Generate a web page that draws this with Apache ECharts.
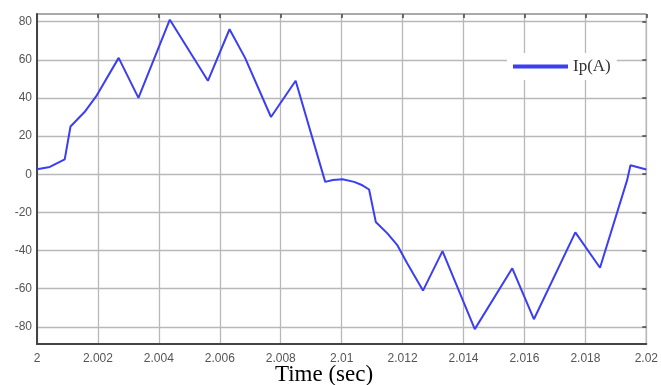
<!DOCTYPE html>
<html><head><meta charset="utf-8">
<script src="https://cdn.jsdelivr.net/npm/echarts@6/dist/echarts.min.js"></script>
<style>html,body{margin:0;padding:0;background:#fff}#c{width:661px;height:385px}</style>
</head><body><div id="c"></div>
<script>
const times = [2.0, 2.00042, 2.00091, 2.0011, 2.00156, 2.00194, 2.00268, 2.00333, 2.00436, 2.00561, 2.00632, 2.00683, 2.00768, 2.00849, 2.00946, 2.00971, 2.01003, 2.01041, 2.01068, 2.0109, 2.01112, 2.0115, 2.01182, 2.01215, 2.01267, 2.01331, 2.01437, 2.0156, 2.01631, 2.01767, 2.01848, 2.01937, 2.01948, 2.02];
const current = [2.6, 3.8, 7.8, 25, 32.6, 40.8, 61, 40, 81, 49, 76, 61, 30, 49, -4, -3, -2.6, -4, -5.8, -8, -25, -31, -37, -46.7, -61, -40.3, -81.2, -49.3, -76, -30.5, -49, -3.1, 4.7, 2.5];
const yTicks = [-80, -60, -40, -20, 0, 20, 40, 60, 80];
const seriesName = 'Ip(A)';
const xTitle = 'Time (sec)';

const chart = echarts.init(document.getElementById('c'));
const gridLine = {show: true, lineStyle: {color: '#b8b8b8', width: 1.3}};
chart.setOption({
  animation: false,
  grid: {left: 37, right: 10, top: 14, bottom: 41, show: true, borderColor: '#555', borderWidth: 1, backgroundColor: 'transparent'},
  legend: {
    show: true, left: 507, top: 53, padding: [5, 6], backgroundColor: '#fff',
    icon: 'rect', itemWidth: 55, itemHeight: 4,
    textStyle: {fontFamily: 'Liberation Serif', fontSize: 17, color: '#333'},
    data: [seriesName]
  },
  xAxis: [{
    type: 'value', min: 2, max: 2.02, interval: 0.002,
    axisLine: {show: true, onZero: false, lineStyle: {color: '#444', width: 2}},
    axisTick: {show: false},
    axisLabel: {color: '#555', fontSize: 12, fontFamily: 'Liberation Sans', margin: 9,
      formatter: v => String(+v.toFixed(3))},
    splitLine: gridLine
  }, {
    type: 'value', position: 'top', min: 2, max: 2.02, interval: 0.002,
    axisLine: {show: false, onZero: false}, axisLabel: {show: false}, splitLine: {show: false},
    axisTick: {show: true, inside: true, length: 4, lineStyle: {color: '#444', width: 1.5}}
  }],
  yAxis: [{
    type: 'value', min: -89, max: 84,
    axisLine: {show: true, onZero: false, lineStyle: {color: '#444', width: 2}},
    axisTick: {show: false, customValues: yTicks},
    axisLabel: {color: '#555', fontSize: 12, fontFamily: 'Liberation Sans', margin: 5, customValues: yTicks},
    splitLine: Object.assign({customValues: yTicks}, gridLine)
  }, {
    type: 'value', position: 'right', min: -89, max: 84,
    axisLine: {show: false, onZero: false}, axisLabel: {show: false, customValues: yTicks}, splitLine: {show: false},
    axisTick: {show: true, inside: true, length: 4, customValues: yTicks, lineStyle: {color: '#444', width: 1.5}}
  }],
  series: [{
    name: seriesName, type: 'line', xAxisIndex: 0, yAxisIndex: 0,
    data: times.map((t, i) => [t, current[i]]),
    showSymbol: false, symbol: 'none',
    lineStyle: {color: '#3b3ef2', width: 2},
    itemStyle: {color: '#3b3ef2'}
  }],
  graphic: [{
    type: 'text', x: 324, y: 375,
    style: {text: xTitle, fontFamily: 'Liberation Serif', fontSize: 23, fill: '#000', textAlign: 'center', textVerticalAlign: 'middle'}
  }]
});
</script>
</body></html>
